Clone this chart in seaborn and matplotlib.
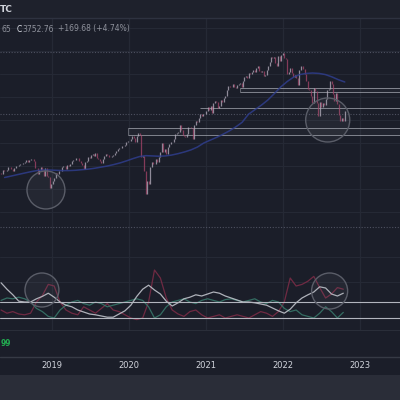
import numpy as np
import pandas as pd
import matplotlib
matplotlib.use("Agg")
import matplotlib.pyplot as plt
import matplotlib.dates as mdates
from matplotlib.patches import Ellipse, Rectangle
import seaborn as sns

# ---------------- data ----------------
first_open = 2670
closes_2018 = [2663, 2728, 2713, 2721, 2735, 2779, 2780, 2755, 2718, 2760, 2801, 2802, 2819,
               2840, 2833, 2850, 2875, 2902, 2872, 2905, 2930, 2914, 2886, 2767, 2768, 2659,
               2723, 2781, 2736, 2633, 2760, 2633, 2600, 2417, 2486]
closes_2019 = [2532, 2596, 2671, 2665, 2707, 2708, 2776, 2793, 2804, 2743, 2822, 2800, 2834,
               2893, 2907, 2905, 2940, 2946, 2881, 2860, 2826, 2752, 2873, 2887, 2950, 2942,
               2990, 3014, 2977, 3026, 2932, 2919, 2889, 2847, 2926, 2979, 3007, 2992, 2962,
               2952, 2970, 2986, 3023, 3067, 3093, 3120, 3110, 3141, 3146, 3169, 3221, 3240]
closes_2020 = [3235, 3265, 3330, 3295, 3226, 3328, 3380, 3338, 2954, 2972, 2711, 2305, 2541,
               2489, 2790, 2875, 2837, 2831, 2930, 2864, 2955, 3044, 3194, 3041, 3098, 3009,
               3130, 3185, 3225, 3216, 3271, 3351, 3373, 3397, 3508, 3427, 3341, 3319, 3298,
               3348, 3477, 3484, 3465, 3270, 3510, 3585, 3558, 3638, 3699, 3663, 3709, 3703]
closes_2021 = [3756, 3825, 3768, 3841, 3714, 3887, 3934, 3907, 3811, 3842, 3943, 3913, 3975,
               4020, 4129, 4185, 4180, 4181, 4233, 4174, 4156, 4204, 4230, 4247, 4166, 4281,
               4352, 4370, 4327, 4412, 4395, 4437, 4468, 4442, 4509, 4535, 4459, 4433, 4455,
               4357, 4391, 4471, 4545, 4605, 4698, 4683, 4698, 4595, 4538, 4712, 4621, 4726, 4766]
closes_2022 = [4677, 4663, 4398, 4432, 4501, 4419, 4349, 4385, 4329, 4204, 4463, 4543,
               4546, 4488, 4393, 4272, 4132, 4123, 4024, 3901, 4158, 4109, 3901, 3675, 3912,
               3825, 3899, 3863, 3962, 4130, 4145, 4280, 4228, 4058, 3924, 4067, 3873, 3693, 3586,
               3639, 3583, 3753]
closes = closes_2018 + closes_2019 + closes_2020 + closes_2021 + closes_2022
week_dates = pd.date_range("2018-05-04", periods=len(closes), freq="W-FRI")

ma_values = [2600, 2625, 2650, 2675, 2700, 2720, 2730, 2730,
             2725, 2720, 2720, 2725, 2735, 2745, 2760, 2780, 2800, 2825, 2855, 2890,
             2930, 2965, 2980, 2975, 2970, 2975, 2990, 3015, 3045, 3080, 3130, 3200,
             3250, 3300, 3350, 3410, 3478, 3560, 3700, 3780, 3860, 3948, 4060, 4174,
             4270, 4348, 4390, 4410, 4417, 4410, 4390, 4350, 4300, 4261]
ma_dates = pd.date_range("2018-05-01", periods=len(ma_values), freq="MS") + pd.Timedelta(days=20)

adx_values = [64, 56, 49, 41, 40, 40, 44, 47, 51, 46, 40, 36, 34, 30, 27.5, 25, 24, 22.5, 21, 21,
              25, 29, 36, 47, 56, 61, 55, 50, 41, 35, 39, 44, 46, 49, 47.5, 50, 52.5, 51, 47.5, 45,
              42.5, 40, 40, 39, 37.5, 36, 32.5, 29, 26, 31, 39, 45, 49, 52.5, 59, 57.5, 50, 47.5, 51]
plus_di = [42, 45, 44, 46, 44, 40, 32, 28, 22, 20, 30, 36, 40, 42, 38, 36, 40, 38, 34, 36,
           38, 40, 42, 44, 42, 34, 20, 24, 34, 40, 42, 44, 40, 38, 42, 44, 42, 40, 43, 44,
           42, 40, 42, 44, 40, 38, 42, 40, 32, 28, 30, 24, 22, 20, 26, 34, 28, 20, 27]
minus_di = [30, 26, 28, 25, 24, 26, 40, 48, 62, 60, 40, 30, 26, 24, 34, 30, 26, 32, 38, 30,
            28, 24, 20, 18, 20, 40, 80, 70, 45, 30, 25, 22, 28, 30, 24, 20, 22, 24, 20, 22,
            24, 22, 20, 24, 28, 26, 22, 28, 40, 70, 60, 62, 66, 72, 58, 45, 50, 58, 56]
osc_dates = week_dates[::4]

year_labels = ["2019", "2020", "2021", "2022", "2023"]
year_dates = pd.to_datetime([f"{y}-01-01" for y in year_labels])

price_grid = [2000, 2400, 2800, 3200, 3600, 4000, 4400, 4800, 5200]
level_lines = [(pd.Timestamp("2020-12-01"), 3809)]
boxes = [(pd.Timestamp("2021-06-10"), 4087, 4157), (pd.Timestamp("2019-12-27"), 3339, 3461)]
dotted_levels = [4783, 3704, 1739]
price_circles = [(pd.Timestamp("2018-12-03"), 2383, 180, 661), (pd.Timestamp("2022-08-01"), 3600, 209, 765)]
osc_circles = [(pd.Timestamp("2018-11-14"), 55, 161, 42.5), (pd.Timestamp("2022-08-10"), 53.75, 171, 45)]
osc_levels = [40, 20]

# ---------------- style ----------------
sns.set_theme(style="dark")
plt.rcParams["font.family"] = ["DejaVu Sans"]
BG = "#1b1e29"
GRID = "#252935"
XMIN, XMAX = pd.Timestamp("2018-04-29"), pd.Timestamp("2023-07-10")

fig = plt.figure(figsize=(4, 4), dpi=100, facecolor=BG)

def px_axes(top, bottom):
    ax = fig.add_axes([0, 1 - bottom / 400, 1, (bottom - top) / 400])
    ax.set_facecolor(BG)
    ax.set_xlim(XMIN, XMAX)
    ax.set_xticks([])
    ax.set_yticks([])
    for s in ax.spines.values():
        s.set_visible(False)
    return ax

ax_main = px_axes(18, 255)
ax_osc = px_axes(255, 330)
ax_low = px_axes(330, 357)
ax_x = px_axes(357, 375)

ax_main.set_ylim(1252, 5374)
ax_osc.set_ylim(5, 98.75)

# grids
for ax in (ax_main, ax_osc):
    for d in year_dates:
        ax.axvline(d, color=GRID, lw=0.9, zorder=0)
for p in price_grid:
    ax_main.axhline(p, color=GRID, lw=0.8, zorder=0)
ax_osc.axhline(65, color=GRID, lw=0.8, zorder=0)
ax_osc.axhline(96, color=GRID, lw=0.8, zorder=0)

# dotted levels
for p in dotted_levels:
    ax_main.axhline(p, color="#4e5160", lw=0.8, ls=(0, (1, 1.5)), zorder=1)

# boxes and level lines
for start, lo, hi in boxes:
    x0 = mdates.date2num(start)
    w = mdates.date2num(XMAX) - x0
    ax_main.add_patch(Rectangle((x0, lo), w, hi - lo, facecolor="#9598a1", alpha=0.05,
                                edgecolor="none", zorder=1))
    ax_main.hlines([lo, hi], start, XMAX, color="#a3a6af", lw=0.7, alpha=0.75, zorder=2)
    ax_main.vlines(start, lo, hi, color="#a3a6af", lw=0.7, alpha=0.5, zorder=2)
for start, lvl in level_lines:
    ax_main.hlines(lvl, start, XMAX, color="#a3a6af", lw=0.7, alpha=0.75, zorder=2)

# candles
opens = [first_open] + closes[:-1]
cols = ["#b7b0bf" if c >= o else "#a8456a" for o, c in zip(opens, closes)]
ax_main.vlines(week_dates, opens, closes, colors=cols, lw=0.9, alpha=0.75, zorder=3)

# moving average
sns.lineplot(x=ma_dates, y=ma_values, ax=ax_main, color="#2f3d8c", lw=1.1, alpha=0.85, zorder=4)

# circles
for d, v, wd, hv in price_circles:
    ax_main.add_patch(Ellipse((mdates.date2num(d), v), wd, hv, facecolor="#9598a1", alpha=0.08,
                              edgecolor="none", zorder=5))
    ax_main.add_patch(Ellipse((mdates.date2num(d), v), wd, hv, facecolor="none",
                              edgecolor="#5a5d68", lw=1.0, zorder=5))

# oscillator
sns.lineplot(x=osc_dates, y=minus_di, ax=ax_osc, color="#7e2c47", lw=0.9, alpha=0.85, zorder=3)
sns.lineplot(x=osc_dates, y=plus_di, ax=ax_osc, color="#3a8070", lw=0.9, alpha=0.8, zorder=3)
sns.lineplot(x=osc_dates, y=adx_values, ax=ax_osc, color="#bfc2ca", lw=0.9, alpha=0.9, zorder=4)
for lv in osc_levels:
    ax_osc.axhline(lv, color="#b2b5be", lw=0.8, zorder=5)
for d, v, wd, hv in osc_circles:
    ax_osc.add_patch(Ellipse((mdates.date2num(d), v), wd, hv, facecolor="#9598a1", alpha=0.08,
                             edgecolor="none", zorder=6))
    ax_osc.add_patch(Ellipse((mdates.date2num(d), v), wd, hv, facecolor="none",
                             edgecolor="#5a5d68", lw=1.0, zorder=6))
for ax in (ax_main, ax_osc):
    ax.set_xlabel("")
    ax.set_ylabel("")
    ax.set_xticks([])
    ax.set_yticks([])
    ax.set_xlim(XMIN, XMAX)

# low panel label
ax_low.text(0.002, 0.5, "99", transform=ax_low.transAxes, color="#22ab50", fontsize=5.5,
            fontweight="bold", va="center", ha="left")

# x axis labels
for lab, d in zip(year_labels, year_dates):
    ax_x.text(d, 0.5, lab, transform=ax_x.get_xaxis_transform(), color="#d1d4dc",
              fontsize=6, ha="center", va="center")

# overlay: header, separators, bottom strip
ov = fig.add_axes([0, 0, 1, 1], zorder=10)
ov.set_xlim(0, 400)
ov.set_ylim(400, 0)
ov.axis("off")
ov.patch.set_alpha(0)
ov.add_patch(Rectangle((0, 375), 400, 25, facecolor="#2a2d38", edgecolor="none"))
ov.add_patch(Rectangle((0, 0), 400, 18, facecolor="#1e212c", edgecolor="none"))
ov.plot([0, 400], [18, 18], color="#2e3240", lw=1)
ov.plot([0, 400], [330, 330], color="#2a2e39", lw=0.8)
ov.plot([0, 400], [357, 357], color="#363a45", lw=1)
ov.text(0, 10, "TC", color="#d1d4dc", fontsize=6.5, fontweight="bold", va="center", ha="left")
ov.text(1, 29, "65", color="#8f929c", fontsize=5.5, va="center", ha="left")
ov.text(17, 29, "C", color="#e0e3eb", fontsize=5.5, va="center", ha="left")
ov.text(22, 29, "3752.76", color="#8f929c", fontsize=5.5, va="center", ha="left")
ov.text(58, 29, "+169.68 (+4.74%)", color="#8f929c", fontsize=5.5, va="center", ha="left")

fig.savefig("out.png", dpi=100, facecolor=BG)
